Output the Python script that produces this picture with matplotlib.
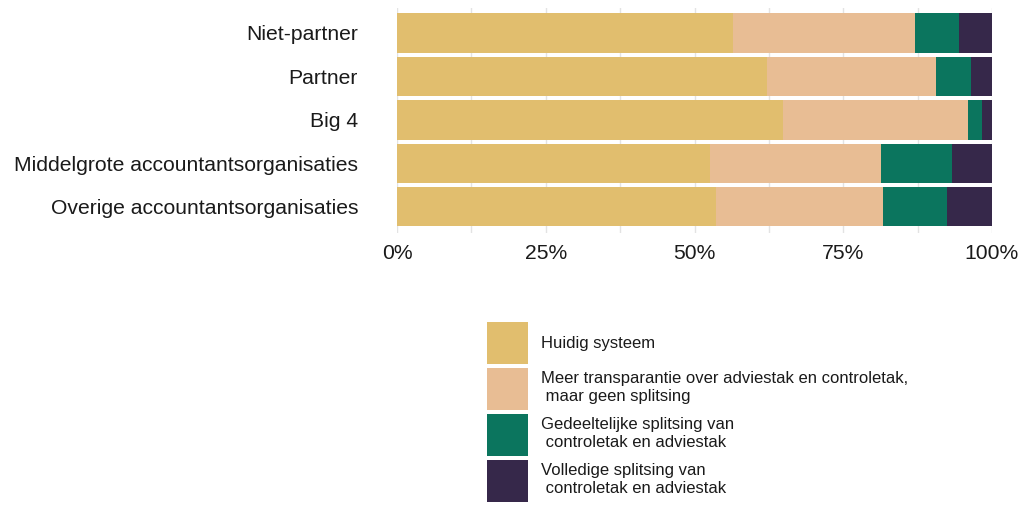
import matplotlib
matplotlib.use("Agg")
import matplotlib.pyplot as plt
from matplotlib.patches import Patch
from matplotlib.ticker import PercentFormatter, MultipleLocator
import numpy as np

plt.rcParams['font.family'] = ['Liberation Sans', 'DejaVu Sans']

categories = ["Niet-partner", "Partner", "Big 4",
              "Middelgrote accountantsorganisaties",
              "Overige accountantsorganisaties"]
series_names = ["Huidig systeem",
                "Meer transparantie over adviestak en controletak,\n maar geen splitsing",
                "Gedeeltelijke splitsing van\n controletak en adviestak",
                "Volledige splitsing van\n controletak en adviestak"]
huidig = [56.4, 62.2, 64.9, 52.6, 53.6]
transparantie = [30.6, 28.4, 31.0, 28.8, 28.0]
gedeeltelijk = [7.4, 5.8, 2.4, 11.8, 10.9]
volledig = [5.6, 3.6, 1.7, 6.8, 7.5]
colors = ["#E1BE6E", "#E8BD94", "#0B755E", "#36284A"]
xtick_values = [0, 25, 50, 75, 100]

fig = plt.figure(figsize=(10.2, 5.05), dpi=100)
ax = fig.add_axes([397/1020, 1-233/505, 595/1020, 225/505])

y = np.arange(len(categories))
left = np.zeros(len(categories))
for vals, c, name in zip([huidig, transparantie, gedeeltelijk, volledig], colors, series_names):
    ax.barh(y, vals, left=left, height=0.9, color=c, edgecolor='none', label=name, zorder=2)
    left += np.array(vals)

ax.set_xlim(0, 100)
ax.set_ylim(len(categories)-0.4, -0.575)
ax.set_yticks(y)
ax.set_yticklabels(categories)
ax.set_xticks(xtick_values)
ax.xaxis.set_minor_locator(MultipleLocator(12.5))
ax.xaxis.set_major_formatter(PercentFormatter(100, decimals=0))
ax.grid(axis='x', which='both', color='#E3E3E3', linewidth=1.0, zorder=0)
for s in ax.spines.values():
    s.set_visible(False)
ax.tick_params(axis='y', length=0, pad=28, labelsize=15.2, labelcolor='#1a1a1a')
ax.tick_params(axis='x', which='both', length=0, pad=8, labelsize=15.2, labelcolor='#1a1a1a')

handles = [Patch(facecolor=c, edgecolor='none') for c in colors]
fig.legend(handles, series_names, loc='upper left',
           bbox_to_anchor=(487/1020, 1-322/505), borderaxespad=0, borderpad=0,
           frameon=False, fontsize=12, handlelength=2.46, handleheight=3.5,
           handletextpad=0.78, labelspacing=0.24, labelcolor='#1a1a1a')

fig.savefig("out.png", dpi=100)
